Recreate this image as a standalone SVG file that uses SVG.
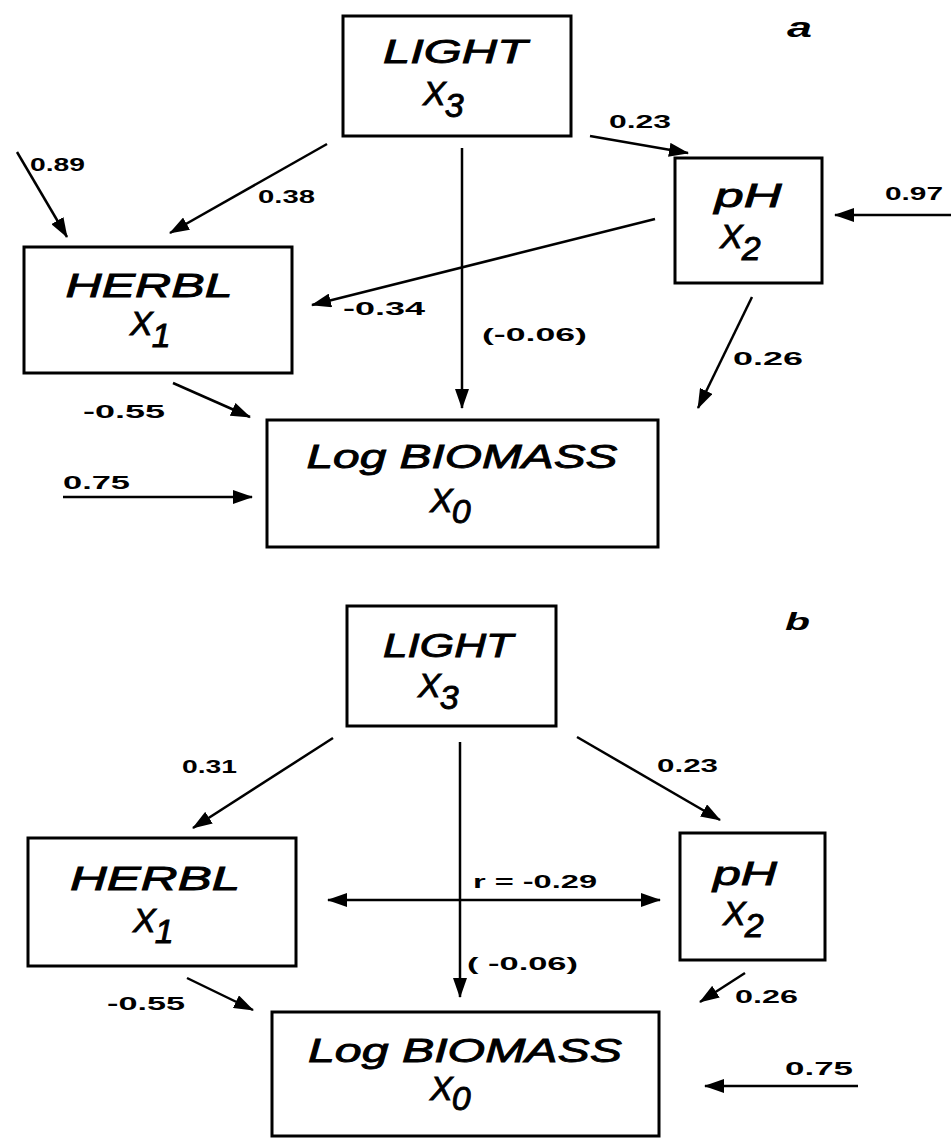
<svg xmlns="http://www.w3.org/2000/svg" width="951" height="1138" viewBox="0 0 951 1138">
<style>
.box{fill:none;stroke:#000;stroke-width:3}
.nt{font-family:"Liberation Sans",Arial,sans-serif;font-style:italic;font-size:34px;fill:#000;stroke:#000;stroke-width:0.9;text-anchor:middle}
.xt{font-family:"Liberation Sans",Arial,sans-serif;font-style:italic;font-size:34px;fill:#000;stroke:#000;stroke-width:0.9}
.lb{font-family:"Liberation Sans",Arial,sans-serif;font-weight:bold;font-size:19px;fill:#000}
.pl{font-family:"Liberation Sans",Arial,sans-serif;font-weight:bold;font-style:italic;fill:#000}
.ar{fill:none;stroke:#000;stroke-width:2.5;marker-end:url(#ah)}
</style>
<defs>
<marker id="ah" viewBox="0 0 20 14" refX="19" refY="7" markerWidth="20" markerHeight="14" markerUnits="userSpaceOnUse" orient="auto-start-reverse">
<path d="M0,0 L20,7 L0,14 z" fill="#000"/>
</marker>
</defs>
<rect width="951" height="1138" fill="#fff"/>

<!-- Panel a -->
<text class="pl" x="787" y="37" font-size="28" textLength="25" lengthAdjust="spacingAndGlyphs">a</text>
<g id="a_light">
<rect class="box" x="343" y="16" width="228" height="120"/>
<text class="nt" x="455" y="63" textLength="144" lengthAdjust="spacingAndGlyphs">LIGHT</text>
<text class="xt" x="423" y="105">X<tspan dy="12" dx="-1">3</tspan></text>
</g>
<g id="a_ph">
<rect class="box" x="675" y="158" width="147" height="125"/>
<text class="nt" x="748" y="207" textLength="67" lengthAdjust="spacingAndGlyphs">pH</text>
<text class="xt" x="720" y="248">X<tspan dy="12" dx="-1">2</tspan></text>
</g>
<g id="a_herbl">
<rect class="box" x="24" y="247" width="268" height="126"/>
<text class="nt" x="149" y="297" textLength="167" lengthAdjust="spacingAndGlyphs">HERBL</text>
<text class="xt" x="130" y="335">X<tspan dy="12" dx="-1">1</tspan></text>
</g>
<g id="a_biomass">
<rect class="box" x="267" y="420" width="391" height="127"/>
<text class="nt" x="462" y="468" textLength="311" lengthAdjust="spacingAndGlyphs">Log BIOMASS</text>
<text class="xt" x="430" y="512">X<tspan dy="11" dx="-1">0</tspan></text>
</g>
<g id="a_connectors">
<line class="ar" x1="17" y1="152" x2="67" y2="237"/>
<line class="ar" x1="327" y1="144" x2="170" y2="233"/>
<line class="ar" x1="462" y1="148" x2="462" y2="408"/>
<line class="ar" x1="590" y1="136" x2="688" y2="153"/>
<line class="ar" x1="951" y1="215" x2="835" y2="215"/>
<line class="ar" x1="655" y1="219" x2="312" y2="305"/>
<line class="ar" x1="752" y1="297" x2="698" y2="408"/>
<line class="ar" x1="173" y1="383" x2="250" y2="417"/>
<line class="ar" x1="63" y1="497" x2="252" y2="497"/>
<text class="lb" x="30" y="171" textLength="55" lengthAdjust="spacingAndGlyphs">0.89</text>
<text class="lb" x="258" y="203" textLength="57" lengthAdjust="spacingAndGlyphs">0.38</text>
<text class="lb" x="609" y="128" textLength="62" lengthAdjust="spacingAndGlyphs">0.23</text>
<text class="lb" x="885" y="200" textLength="58" lengthAdjust="spacingAndGlyphs">0.97</text>
<text class="lb" x="343" y="315" textLength="82" lengthAdjust="spacingAndGlyphs">-0.34</text>
<text class="lb" x="482" y="341" textLength="105" lengthAdjust="spacingAndGlyphs">(-0.06)</text>
<text class="lb" x="733" y="365" textLength="70" lengthAdjust="spacingAndGlyphs">0.26</text>
<text class="lb" x="83" y="418" textLength="82" lengthAdjust="spacingAndGlyphs">-0.55</text>
<text class="lb" x="63" y="489" textLength="67" lengthAdjust="spacingAndGlyphs">0.75</text>
</g>

<!-- Panel b -->
<text class="pl" x="785" y="630" font-size="24" textLength="25" lengthAdjust="spacingAndGlyphs">b</text>
<g id="b_light">
<rect class="box" x="347" y="606" width="209" height="120"/>
<text class="nt" x="448" y="657" textLength="130" lengthAdjust="spacingAndGlyphs">LIGHT</text>
<text class="xt" x="418" y="697">X<tspan dy="12" dx="-1">3</tspan></text>
</g>
<g id="b_ph">
<rect class="box" x="680" y="833" width="145" height="127"/>
<text class="nt" x="745" y="885" textLength="64" lengthAdjust="spacingAndGlyphs">pH</text>
<text class="xt" x="723" y="925">X<tspan dy="12" dx="-1">2</tspan></text>
</g>
<g id="b_herbl">
<rect class="box" x="28" y="838" width="268" height="128"/>
<text class="nt" x="155" y="890" textLength="170" lengthAdjust="spacingAndGlyphs">HERBL</text>
<text class="xt" x="133" y="932">X<tspan dy="11" dx="-1">1</tspan></text>
</g>
<g id="b_biomass">
<rect class="box" x="272" y="1012" width="387" height="124"/>
<text class="nt" x="465" y="1062" textLength="314" lengthAdjust="spacingAndGlyphs">Log BIOMASS</text>
<text class="xt" x="430" y="1100">X<tspan dy="10" dx="-1">0</tspan></text>
</g>
<g id="b_connectors">
<line class="ar" x1="333" y1="738" x2="193" y2="828"/>
<line class="ar" x1="577" y1="737" x2="720" y2="820"/>
<line class="ar" x1="460" y1="742" x2="460" y2="997"/>
<line class="ar" x1="328" y1="900" x2="660" y2="900" style="marker-start:url(#ah)"/>
<line class="ar" x1="187" y1="978" x2="253" y2="1010"/>
<line class="ar" x1="745" y1="973" x2="700" y2="1002"/>
<line class="ar" x1="858" y1="1086" x2="705" y2="1086"/>
<text class="lb" x="182" y="773" textLength="55" lengthAdjust="spacingAndGlyphs">0.31</text>
<text class="lb" x="657" y="772" textLength="61" lengthAdjust="spacingAndGlyphs">0.23</text>
<text class="lb" x="473" y="888" textLength="124" lengthAdjust="spacingAndGlyphs">r = -0.29</text>
<text class="lb" x="467" y="970" textLength="111" lengthAdjust="spacingAndGlyphs">( -0.06)</text>
<text class="lb" x="107" y="1010" textLength="78" lengthAdjust="spacingAndGlyphs">-0.55</text>
<text class="lb" x="735" y="1003" textLength="63" lengthAdjust="spacingAndGlyphs">0.26</text>
<text class="lb" x="785" y="1075" textLength="68" lengthAdjust="spacingAndGlyphs">0.75</text>
</g>
</svg>
